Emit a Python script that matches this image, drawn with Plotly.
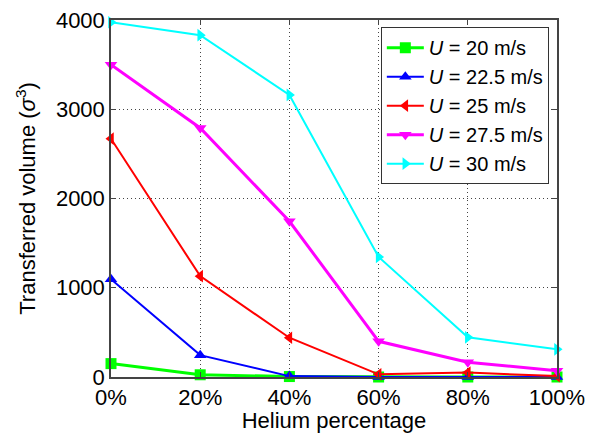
import plotly.graph_objects as go

helium = [0, 20, 40, 60, 80, 100]
tick_labels = ["0%", "20%", "40%", "60%", "80%", "100%"]

u20 = [150, 25, 5, 0, 0, 0]
u22_5 = [1095, 245, 10, 0, 0, 0]
u25 = [2670, 1130, 440, 30, 50, 10]
u27_5 = [3500, 2790, 1745, 400, 165, 70]
u30 = [3975, 3830, 3160, 1345, 445, 310]

series = [
    ("<i>U</i> = 20 m/s", u20, "#00ff00", "square", 3),
    ("<i>U</i> = 22.5 m/s", u22_5, "#0000ff", "triangle-up", 2),
    ("<i>U</i> = 25 m/s", u25, "#ff0000", "triangle-left", 2),
    ("<i>U</i> = 27.5 m/s", u27_5, "#ff00ff", "triangle-down", 3),
    ("<i>U</i> = 30 m/s", u30, "#00ffff", "triangle-right", 2),
]

FONT = "Liberation Sans, Arial, sans-serif"

fig = go.Figure()
for name, vals, color, sym, lw in series:
    fig.add_trace(go.Scatter(
        x=helium, y=vals, name=name, mode="lines+markers",
        line=dict(color=color, width=lw),
        marker=dict(symbol=sym, size=11, color=color),
        cliponaxis=False,
    ))

axis_common = dict(
    showline=True, linecolor="#444444", linewidth=1.5, mirror="ticks",
    ticks="inside", ticklen=5, tickcolor="#444444",
    showgrid=True, gridcolor="#444444", griddash="1px,3px", gridwidth=1,
    zeroline=False, automargin=False,
    tickfont=dict(family=FONT, size=22, color="black"),
)

fig.update_xaxes(
    range=[0, 100], tickvals=helium, ticktext=tick_labels,
    title=dict(text="Helium percentage", standoff=6,
               font=dict(family=FONT, size=22, color="black")),
    **axis_common,
)
fig.update_yaxes(
    range=[0, 4000], tickvals=[0, 1000, 2000, 3000, 4000],
    title=dict(text="Transferred volume (<i>σ</i><sup>3</sup>)", standoff=14,
               font=dict(family=FONT, size=22, color="black")),
    **axis_common,
)

fig.update_layout(
    width=596, height=433,
    margin=dict(l=111, r=39, t=20, b=56),
    paper_bgcolor="white", plot_bgcolor="white",
    showlegend=True,
    legend=dict(
        x=0.605, y=0.98, xanchor="left", yanchor="top",
        bgcolor="white", bordercolor="#333333", borderwidth=1,
        font=dict(family=FONT, size=20, color="black"),
        itemwidth=37, tracegroupgap=0,
    ),
)

fig.write_html("out.html")
